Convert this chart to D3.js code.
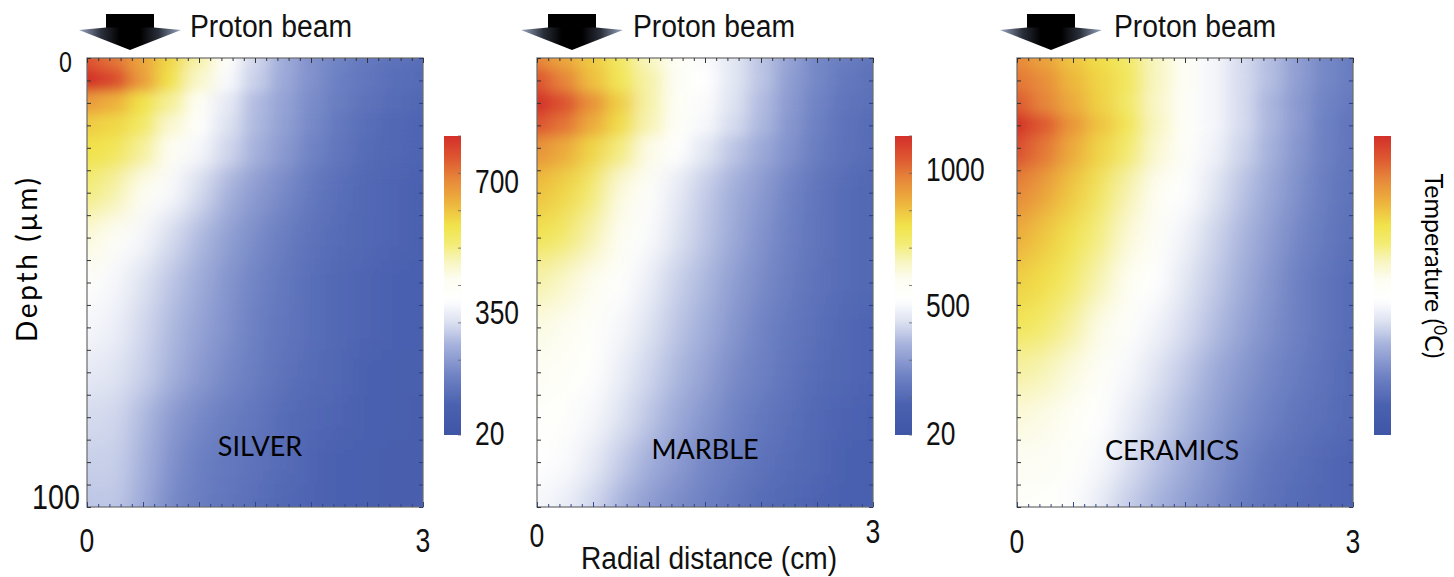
<!DOCTYPE html>
<html>
<head>
<meta charset="utf-8">
<script src="https://cdn.jsdelivr.net/npm/d3@7"></script>
<style>
  body { margin: 0; background: #fff; }
  svg { display: block; }
</style>
</head>
<body>
<svg id="fig" width="1454" height="577"></svg>
<script>
// ---- Data: simulated temperature fields (°C) under a proton beam ----
// Radial distance from the beam axis (cm), one entry per column
const radialCm = [0, 0.25, 0.5, 0.75, 1, 1.25, 1.5, 1.75, 2, 2.25, 2.5, 2.75, 3];
// Depth below the surface (µm), one entry per row
const depthUm = [0, 5, 10, 15, 20, 30, 40, 50, 60, 70, 80, 90, 100];

const silverTemp = [
  [765, 725, 660, 595, 500, 395, 310, 250, 205, 180, 155, 140, 130],
  [820, 780, 675, 580, 475, 370, 300, 245, 205, 170, 150, 130, 125],
  [675, 645, 580, 510, 420, 340, 275, 235, 195, 165, 140, 125, 115],
  [610, 595, 550, 470, 395, 325, 270, 230, 190, 155, 130, 115, 110],
  [580, 565, 510, 420, 365, 310, 260, 220, 180, 150, 125, 115, 110],
  [530, 500, 420, 370, 315, 260, 220, 190, 155, 130, 115, 110, 100],
  [460, 405, 365, 315, 270, 230, 195, 165, 140, 125, 115, 110, 100],
  [395, 365, 325, 285, 250, 210, 180, 155, 130, 115, 110, 100, 100],
  [365, 350, 310, 270, 235, 205, 170, 150, 130, 115, 110, 100, 90],
  [340, 330, 300, 260, 220, 190, 165, 140, 125, 115, 100, 90, 90],
  [315, 310, 270, 220, 190, 165, 150, 125, 115, 110, 100, 90, 85],
  [300, 300, 260, 205, 170, 155, 140, 125, 110, 100, 90, 85, 85],
  [285, 290, 245, 190, 165, 150, 130, 115, 110, 100, 90, 85, 85]
];

const marbleTemp = [
  [965, 900, 835, 755, 660, 570, 505, 450, 385, 315, 250, 220, 195],
  [1045, 965, 855, 770, 680, 580, 515, 450, 385, 305, 250, 205, 185],
  [1120, 1045, 935, 825, 680, 570, 505, 440, 370, 295, 240, 195, 175],
  [1045, 990, 890, 800, 670, 560, 495, 425, 360, 285, 230, 185, 165],
  [935, 890, 810, 715, 605, 515, 450, 385, 330, 275, 220, 185, 165],
  [855, 810, 735, 615, 525, 460, 395, 340, 295, 240, 195, 165, 150],
  [780, 745, 670, 570, 505, 440, 385, 330, 275, 230, 195, 165, 150],
  [680, 645, 590, 525, 470, 405, 360, 305, 260, 220, 185, 165, 150],
  [615, 590, 550, 495, 440, 385, 340, 285, 240, 205, 175, 150, 140],
  [580, 560, 525, 470, 415, 360, 315, 260, 230, 195, 165, 150, 140],
  [550, 535, 495, 440, 385, 330, 285, 240, 205, 175, 150, 140, 130],
  [515, 505, 460, 395, 340, 295, 250, 220, 185, 165, 150, 130, 130],
  [495, 470, 415, 350, 295, 260, 230, 195, 165, 150, 140, 130, 120]
];

const ceramicsTemp = [
  [1040, 990, 920, 870, 810, 715, 620, 535, 465, 405, 330, 270, 235],
  [1075, 1030, 945, 885, 825, 715, 620, 535, 465, 405, 330, 270, 235],
  [1125, 1050, 970, 895, 810, 705, 610, 535, 465, 390, 320, 260, 225],
  [1220, 1125, 1015, 920, 835, 715, 610, 535, 465, 390, 320, 250, 210],
  [1150, 1075, 970, 885, 800, 690, 595, 525, 450, 380, 310, 250, 210],
  [1050, 990, 910, 825, 730, 620, 560, 490, 415, 355, 295, 235, 200],
  [970, 910, 850, 775, 680, 595, 525, 450, 390, 330, 270, 225, 190],
  [900, 865, 805, 725, 620, 560, 490, 430, 370, 310, 250, 210, 175],
  [840, 805, 745, 655, 590, 525, 465, 405, 345, 295, 250, 210, 175],
  [745, 725, 670, 600, 540, 480, 425, 365, 315, 270, 235, 200, 165],
  [680, 660, 615, 560, 505, 450, 395, 340, 290, 250, 210, 190, 165],
  [640, 630, 595, 540, 470, 415, 365, 310, 260, 210, 190, 165, 150],
  [605, 590, 555, 495, 430, 380, 330, 285, 235, 200, 175, 165, 150]
];

const materialNames = ["SILVER", "MARBLE", "CERAMICS"];
const colorbarMin = [20, 20, 20];
const colorbarMax = [820, 1120, 1220];
const colorbarTicks = [[20, 350, 700], [20, 500, 1000], []];
const depthTickLabels = [0, 100];
const radialTickLabels = [0, 3];

// ---- Layout ----
const W = 336, H = 449;
const panels = [
  { left: 87,   top: 58, cbX: 444,  arrowX: 130,  titleX: 190,  labelX: 260,  labelY: 456, bottomY: [552, 552] },
  { left: 537,  top: 58, cbX: 895,  arrowX: 572,  titleX: 633,  labelX: 705,  labelY: 459, bottomY: [547, 543] },
  { left: 1017, top: 58, cbX: 1374, arrowX: 1051, titleX: 1114, labelX: 1172, labelY: 460, bottomY: [553, 553] }
];
const cbTop = 136, cbBottom = 435, cbW = 17;
const fields = [silverTemp, marbleTemp, ceramicsTemp];

// Blue–white–yellow–red colour map on a normalised 0..1 range
const cmapStops = [0, 0.1, 0.2, 0.3, 0.38, 0.45, 0.52, 0.58, 0.64, 0.7, 0.78, 0.86, 0.93, 1];
const cmapColors = ["#3f55a6", "#4a61b0", "#7083c4", "#a5b1dc", "#dde2f1", "#ffffff", "#fdfdf3",
                    "#f8f5c0", "#f3ec74", "#f1e34a", "#edb23d", "#e6843a", "#dd5431", "#d3302a"];
const cmap = d3.scaleLinear().domain(cmapStops).range(cmapColors)
  .interpolate(d3.interpolateRgb).clamp(true);

const svg = d3.select("#fig");
const defs = svg.append("defs");

// smoothing of the gridded field: a wide pass for the coarse rows, a tighter one near the surface
const addBlur = (id, sd) => defs.append("filter").attr("id", id)
  .attr("x", "-20%").attr("y", "-20%").attr("width", "140%").attr("height", "140%")
  .append("feGaussianBlur").attr("stdDeviation", sd);
addBlur("softWide", "12 15");
addBlur("softNear", "9 6");

// arrow head shading
const ag = defs.append("linearGradient").attr("id", "arrowHead")
  .attr("x1", 0).attr("x2", 1).attr("y1", 0).attr("y2", 0);
[[0, "#9aa8c2"], [0.22, "#2a2f3a"], [0.4, "#000"], [0.6, "#000"], [0.78, "#2a2f3a"], [1, "#9aa8c2"]]
  .forEach(([o, c]) => ag.append("stop").attr("offset", o).attr("stop-color", c));

// colour bar gradient
const cg = defs.append("linearGradient").attr("id", "cbar")
  .attr("x1", 0).attr("x2", 0).attr("y1", 1).attr("y2", 0);
d3.range(0, 1.0001, 0.02).forEach(t =>
  cg.append("stop").attr("offset", t).attr("stop-color", cmap(t)));

function condensed(g, x, y, str, size, anchor, sx, family) {
  return g.append("text")
    .attr("transform", `translate(${x},${y}) scale(${sx},1)`)
    .attr("text-anchor", anchor)
    .attr("font-family", family || "'Liberation Sans', Arial, sans-serif")
    .attr("font-size", size)
    .attr("fill", "#111")
    .text(str);
}

panels.forEach((p, k) => {
  const x = d3.scaleLinear().domain([0, 3]).range([p.left, p.left + W]);
  const y = d3.scaleLinear().domain([0, 100]).range([p.top, p.top + H]);
  const tNorm = d3.scaleLinear().domain([colorbarMin[k], colorbarMax[k]]).range([0, 1]);
  const colorOf = v => cmap(tNorm(v));
  const g = svg.append("g");

  // clip to the plot frame
  const clipId = "clip" + k;
  defs.append("clipPath").attr("id", clipId)
    .append("rect").attr("x", p.left).attr("y", p.top).attr("width", W).attr("height", H);

  // fade mask for the near-surface layer
  const mgId = "nearGrad" + k, maskId = "nearMask" + k;
  const mg = defs.append("linearGradient").attr("id", mgId).attr("gradientUnits", "userSpaceOnUse")
    .attr("x1", 0).attr("x2", 0).attr("y1", y(14)).attr("y2", y(28));
  mg.append("stop").attr("offset", 0).attr("stop-color", "#fff");
  mg.append("stop").attr("offset", 1).attr("stop-color", "#000");
  defs.append("mask").attr("id", maskId).attr("maskUnits", "userSpaceOnUse")
    .attr("x", p.left - 50).attr("y", p.top - 50).attr("width", W + 100).attr("height", H + 100)
    .append("rect").attr("x", p.left - 50).attr("y", p.top - 50).attr("width", W + 100).attr("height", H + 100)
    .attr("fill", `url(#${mgId})`);

  // cell edges: midpoints between grid nodes, outer cells extended past the frame
  const pad = 40;
  const xEdges = radialCm.map((r, i) => [
    i === 0 ? x(r) - pad : x((radialCm[i - 1] + r) / 2),
    i === radialCm.length - 1 ? x(r) + pad : x((r + radialCm[i + 1]) / 2)
  ]);
  const yEdges = depthUm.map((d, j) => [
    j === 0 ? y(d) - pad : y((depthUm[j - 1] + d) / 2),
    j === depthUm.length - 1 ? y(d) + pad : y((d + depthUm[j + 1]) / 2)
  ]);
  const cells = [];
  fields[k].forEach((row, j) => row.forEach((v, i) => cells.push({ i, j, v })));

  const drawCells = (sel) => sel.selectAll("rect").data(cells).join("rect")
    .attr("x", d => xEdges[d.i][0])
    .attr("y", d => yEdges[d.j][0])
    .attr("width", d => xEdges[d.i][1] - xEdges[d.i][0] + 0.5)
    .attr("height", d => yEdges[d.j][1] - yEdges[d.j][0] + 0.5)
    .attr("fill", d => colorOf(d.v));

  const field = g.append("g").attr("clip-path", `url(#${clipId})`);
  field.append("g").attr("filter", "url(#softWide)").call(drawCells);
  field.append("g").attr("mask", `url(#${maskId})`)
    .append("g").attr("filter", "url(#softNear)").call(drawCells);

  // frame
  g.append("rect").attr("x", p.left).attr("y", p.top).attr("width", W).attr("height", H)
    .attr("fill", "none").attr("stroke", "#6b6b6b").attr("stroke-width", 1.2);

  // inward minor/major ticks on all four sides
  const minorX = d3.range(0, 3.0001, 0.1), majorX = d3.range(0, 3.0001, 0.5);
  const depthT = d3.range(0, 100.001, 5);
  const tickAxis = (axis, tx, ty, color) => {
    const a = g.append("g").attr("transform", `translate(${tx},${ty})`).call(axis);
    a.select(".domain").remove();
    a.selectAll("text").remove();
    a.selectAll("line").attr("stroke", color).attr("stroke-width", 1);
  };
  tickAxis(d3.axisTop(x).tickValues(minorX).tickSize(-3), 0, p.top, "#333");
  tickAxis(d3.axisTop(x).tickValues(majorX).tickSize(-5), 0, p.top, "#333");
  tickAxis(d3.axisBottom(x).tickValues(minorX).tickSize(-3), 0, p.top + H, "#33458a");
  tickAxis(d3.axisBottom(x).tickValues(majorX).tickSize(-5), 0, p.top + H, "#33458a");
  tickAxis(d3.axisLeft(y).tickValues(depthT).tickSize(-4), p.left, 0, "#333");
  tickAxis(d3.axisRight(y).tickValues(depthT).tickSize(-4), p.left + W, 0, "#2a3c86");

  // radial tick labels
  radialTickLabels.forEach((v, n) =>
    condensed(g, x(v), p.bottomY[n], String(v), 34, "middle", 0.78));

  // material name
  g.append("text").attr("x", p.labelX).attr("y", p.labelY)
    .attr("text-anchor", "middle").attr("font-family", "Lato, 'Open Sans', sans-serif")
    .attr("font-size", 27).attr("fill", "#000").text(materialNames[k]);

  // beam arrow
  const ax = p.arrowX;
  const arrow = g.append("g");
  arrow.append("rect").attr("x", ax - 24).attr("y", 14).attr("width", 48).attr("height", 16).attr("fill", "#000");
  arrow.append("path")
    .attr("d", `M${ax - 51},30 L${ax - 24},27.5 L${ax + 24},27.5 L${ax + 51},30 L${ax},50 Z`)
    .attr("fill", "url(#arrowHead)");
  condensed(g, p.titleX, 37, "Proton beam", 31, "start", 1)
    .attr("textLength", 162).attr("lengthAdjust", "spacingAndGlyphs");

  // colour bar
  const cb = d3.scaleLinear().domain([colorbarMin[k], colorbarMax[k]]).range([cbBottom, cbTop]);
  g.append("rect").attr("x", p.cbX).attr("y", cbTop).attr("width", cbW).attr("height", cbBottom - cbTop)
    .attr("fill", "url(#cbar)");
  if (colorbarTicks[k].length) {
    const minor = d3.range(0, 1.0001, 0.125).map(t => cb.invert(cbBottom - t * (cbBottom - cbTop)));
    g.append("g").selectAll("line").data(minor).join("line")
      .attr("x1", p.cbX + cbW - 3).attr("x2", p.cbX + cbW)
      .attr("y1", d => cb(d)).attr("y2", d => cb(d))
      .attr("stroke", "#666").attr("stroke-width", 0.8);
    colorbarTicks[k].forEach(v =>
      condensed(g, p.cbX + 31, Math.min(cb(v), cbBottom - 2) + 12, String(v), 33, "start", 0.8));
  }
});

// left axis labels (first panel only)
{
  const p = panels[0];
  const y = d3.scaleLinear().domain([0, 100]).range([p.top, p.top + H]);
  condensed(svg, 72, y(depthTickLabels[0]) + 14, String(depthTickLabels[0]), 29, "end", 0.8);
  condensed(svg, 80, y(depthTickLabels[1]) + 2, String(depthTickLabels[1]), 35, "end", 0.82);
}

// axis titles
svg.append("text")
  .attr("transform", "translate(37,260) rotate(-90)")
  .attr("text-anchor", "middle").attr("font-family", "Lato, 'Open Sans', sans-serif")
  .attr("font-size", 28).attr("fill", "#000")
  .attr("textLength", 164).attr("lengthAdjust", "spacing")
  .text("Depth (\u00b5m)");

condensed(svg, 709, 569, "Radial distance (cm)", 31, "middle", 1)
  .attr("textLength", 256).attr("lengthAdjust", "spacingAndGlyphs");

const tl = svg.append("text")
  .attr("transform", "translate(1425,266) rotate(90)")
  .attr("text-anchor", "middle").attr("font-family", "Lato, 'Open Sans', sans-serif")
  .attr("font-size", 25).attr("fill", "#000");
tl.append("tspan").text("Temperature (");
tl.append("tspan").attr("font-size", 17).attr("dy", -9).text("0");
tl.append("tspan").attr("dy", 9).text("C)");
</script>
</body>
</html>
